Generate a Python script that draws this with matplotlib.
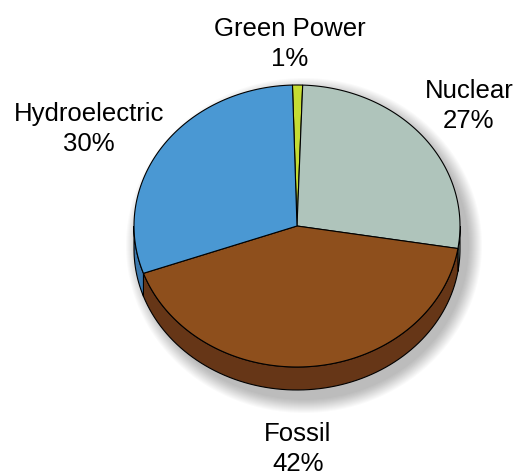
import numpy as np
import matplotlib
matplotlib.use('Agg')
import matplotlib.pyplot as plt
from matplotlib.patches import Polygon, Ellipse

# data
labels = ['Green Power', 'Nuclear', 'Fossil', 'Hydroelectric']
shares = [1, 27, 42, 30]
top_colors = ['#c5dc33', '#afc4bb', '#8e4f1c', '#4a98d3']
side_colors = ['#8fa022', '#7f918a', '#663617', '#3a78ae']

# layout (pixel space of the figure)
cx, cy = 297, 226
rx, ry = 163, 141
depth = 23
start_angle = 91.6

plt.rcParams['font.family'] = ['Liberation Sans', 'DejaVu Sans']

fig = plt.figure(figsize=(5.17, 4.71), dpi=100)
ax = fig.add_axes([0, 0, 1, 1])
ax.set_xlim(0, 517)
ax.set_ylim(471, 0)
ax.axis('off')


def ell(theta_deg, dy=0.0):
    t = np.radians(theta_deg)
    return np.column_stack([cx + rx * np.cos(t), cy - ry * np.sin(t) + dy])


# soft shadow
for i in range(14):
    ax.add_patch(Ellipse((cx + 7, cy + depth / 2 + 8), 2 * rx + 4 + 2 * i,
                         2 * ry + depth + 4 + 2 * i, color='black',
                         alpha=0.018, lw=0, zorder=1))

# slice angles, clockwise from the top
fracs = np.array(shares, dtype=float) / sum(shares)
bounds = start_angle - 360 * np.concatenate([[0], np.cumsum(fracs)])

# side walls (visible front half: -180..0 degrees)
for i in range(len(shares)):
    seg_lo = max(bounds[i + 1], -180)
    seg_hi = min(bounds[i], 0)
    if seg_hi <= seg_lo:
        continue
    th = np.linspace(seg_lo, seg_hi, 80)
    pts = np.vstack([ell(th), ell(th[::-1], depth)])
    ax.add_patch(Polygon(pts, closed=True, facecolor=side_colors[i],
                         edgecolor='black', lw=0.8, zorder=2))

# top face wedges
for i in range(len(shares)):
    th = np.linspace(bounds[i], bounds[i + 1], 120)
    pts = np.vstack([[cx, cy], ell(th)])
    ax.add_patch(Polygon(pts, closed=True, facecolor=top_colors[i],
                         edgecolor='black', lw=0.8, zorder=3))

# labels
label_pos = [(290, 44), (469, 106), (298, 449), (89, 129)]
for name, val, (x, y) in zip(labels, shares, label_pos):
    ax.text(x, y, f'{name}\n{val}%', ha='center', va='center',
            fontsize=18.5, linespacing=1.32, color='black', zorder=5)

fig.savefig('out.png', dpi=100)
